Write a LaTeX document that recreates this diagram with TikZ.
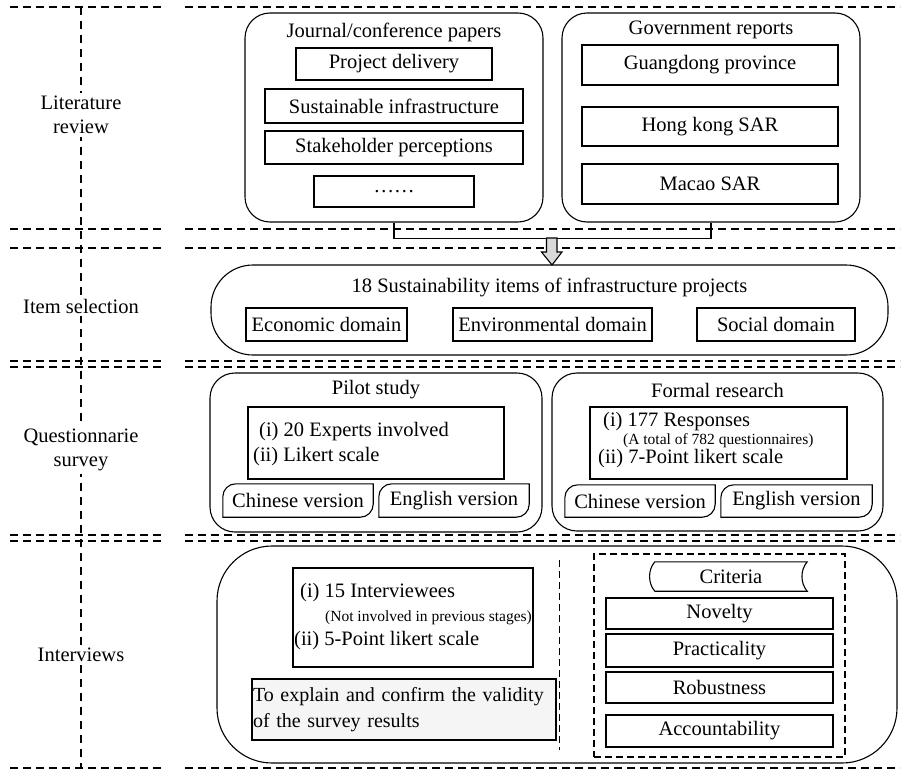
\documentclass[tikz,border=0pt]{standalone}
\usepackage{fontspec}
\setmainfont{Liberation Serif}
\begin{document}
\begin{tikzpicture}[x=1pt,y=-1pt,
  every node/.style={font=\fontsize{20.5}{24}\selectfont, inner sep=0pt},
  box/.style={draw, line width=1.1pt},
  rbox/.style={draw, line width=1.1pt, rounded corners=25pt},
  sep/.style={line width=1.1pt, dash pattern=on 8pt off 5pt},
  vsep/.style={line width=1.1pt, dash pattern=on 8pt off 6pt},
  lab/.style={fill=white, align=center, inner sep=3pt},
  small/.style={font=\fontsize{15.5}{18}\selectfont},
  shp/.style={line width=1.1pt},
]
\useasboundingbox (0,0) rectangle (904,771);
\fill[white] (0,0) rectangle (904,771);

% separators
\draw[vsep] (81,7) -- (81,768);
\foreach \yy in {7,229,248,361,367,535,541,768} {
  \draw[sep] (10,\yy) -- (163,\yy);
  \draw[sep] (185,\yy) -- (900,\yy);
}

% left labels
\node[lab] (l1) at (81,115) {Literature\\review};
\node[lab] (l2) at (81,306) {Item selection};
\node[lab] (l3) at (81,450) {Questionnarie\\survey};
\node[lab] (l4) at (81,655) {Interviews};

% ---------- Literature review
\node[rbox, fill=white, minimum width=298pt, minimum height=209pt] (jour) at (394,117.5) {};
\node (jourt) at (394,32) {Journal/conference papers};
\node[box, minimum width=196pt, minimum height=32pt] (pd) at (394,64) {Project delivery};
\node[box, minimum width=258pt, minimum height=34pt] (si) at (394,106) {Sustainable infrastructure};
\node[box, minimum width=258pt, minimum height=33pt] (sp) at (394,147.5) {Stakeholder perceptions};
\node[box, minimum width=160pt, minimum height=31pt] (dots) at (394,191.5) {……};

\node[rbox, fill=white, minimum width=298pt, minimum height=209pt] (gov) at (711,117.5) {};
\node (govt) at (711,30) {Government reports};
\node[box, minimum width=256pt, minimum height=40pt] (gd) at (710,65) {Guangdong province};
\node[box, minimum width=256pt, minimum height=39pt] (hk) at (710,126.5) {Hong kong SAR};
\node[box, minimum width=256pt, minimum height=40pt] (mc) at (710,184) {Macao SAR};

\draw[shp] (jour.south) -- ++(0,16) coordinate (bk) -| (gov.south);

% ---------- Item selection
\node[draw, line width=1.1pt, rounded corners=42pt, minimum width=677pt, minimum height=90pt] (item) at (549.5,310) {};
\node (itemt) at (549.5,287) {18 Sustainability items of infrastructure projects};
\node[box, minimum width=161pt, minimum height=33pt] (eco) at (326.5,324.5) {Economic domain};
\node[box, minimum width=199pt, minimum height=33pt] (env) at (552.5,324.5) {Environmental domain};
\node[box, minimum width=158pt, minimum height=33pt] (soc) at (776,324.5) {Social domain};

% block arrow
\coordinate (at) at (552,238);
\draw[shp, fill=black!15] (at) ++(-5.5,0) -- ++(0,14) -- ++(-5,0) -- (552,265) -- ++(10,-13) -- ++(-5,0) -- ++(0,-14) -- cycle;

% ---------- Questionnaire
\node[rbox, minimum width=332pt, minimum height=159pt] (pilot) at (376,452.5) {};
\node (pilott) at (376,390) {Pilot study};
\node[box, minimum width=256pt, minimum height=72pt] (pin) at (376,443) {};
\node[anchor=west] (p1) at (259,432) {(i) 20 Experts involved};
\node[anchor=west] (p2) at (253,457) {(ii) Likert scale};
\node[minimum width=150pt, minimum height=33pt] (pcn) at (298,500.5) {Chinese version};
\node[minimum width=150pt, minimum height=33pt] (pen) at (454,500.5) {English version};

\node[rbox, minimum width=331pt, minimum height=158pt] (formal) at (717.5,452) {};
\node (formalt) at (717.5,390) {Formal research};
\node[box, minimum width=257pt, minimum height=72pt] (fin) at (718.5,443) {};
\node[anchor=west] (f1) at (603,422) {(i) 177 Responses};
\node[anchor=west, small] (f2) at (623,440.5) {(A total of 782 questionnaires)};
\node[anchor=west] (f3) at (598,459) {(ii) 7-Point likert scale};
\node[minimum width=150pt, minimum height=32pt] (fcn) at (640,501) {Chinese version};
\node[minimum width=151pt, minimum height=32pt] (fen) at (796.5,501) {English version};

\foreach \n in {pcn,pen,fcn,fen} {
  \draw[shp] (\n.south west) -- ([yshift=-13pt]\n.north west) to[out=90,in=180] ([xshift=13pt]\n.north west)
    -- (\n.north east) -- ([yshift=13pt]\n.south east) to[out=-90,in=0] ([xshift=-13pt]\n.south east) -- cycle;
}

% ---------- Interviews
\node[draw, line width=1.1pt, rounded corners=55pt, minimum width=680pt, minimum height=217pt] (inter) at (557,654.5) {};
\node[box, minimum width=240pt, minimum height=99pt] (iin) at (413,617.5) {};
\node[anchor=west] (i1) at (300,593) {(i) 15 Interviewees};
\node[anchor=west, small] (i2) at (325,618) {(Not involved in previous stages)};
\node[anchor=west] (i3) at (294,641) {(ii) 5-Point likert scale};
\node[box, fill=black!4, minimum height=61pt, text width=302pt, inner xsep=1pt, align=left,
  font=\fontsize{20}{26}\selectfont] (expl) at (404,709.5) {To explain and confirm the validity\\of the survey results};

\coordinate (vs1) at (559,560);
\coordinate (vs2) at (559,750);
\draw[line width=1pt, dash pattern=on 7pt off 4pt] (vs1) -- (vs2);

\node[draw, line width=1.1pt, dash pattern=on 7pt off 4pt, minimum width=251pt, minimum height=203pt] (crit) at (719.5,655.5) {};
\node[minimum width=152pt, minimum height=29pt] (critt) at (731,576.5) {Criteria};
\draw[shp] (critt.north west) -- (critt.north east) .. controls +(-7,8) and +(-7,-8) .. (critt.south east)
  -- (critt.south west) .. controls +(-7,-8) and +(-7,8) .. (critt.north west) -- cycle;
\node[box, minimum width=227pt, minimum height=31pt] (nov) at (719.5,613.5) {Novelty};
\node[box, minimum width=227pt, minimum height=33pt] (pra) at (719.5,650.5) {Practicality};
\node[box, minimum width=227pt, minimum height=31pt] (rob) at (719.5,687.5) {Robustness};
\node[box, minimum width=227pt, minimum height=32pt] (acc) at (719.5,731) {Accountability};
\end{tikzpicture}
\end{document}
